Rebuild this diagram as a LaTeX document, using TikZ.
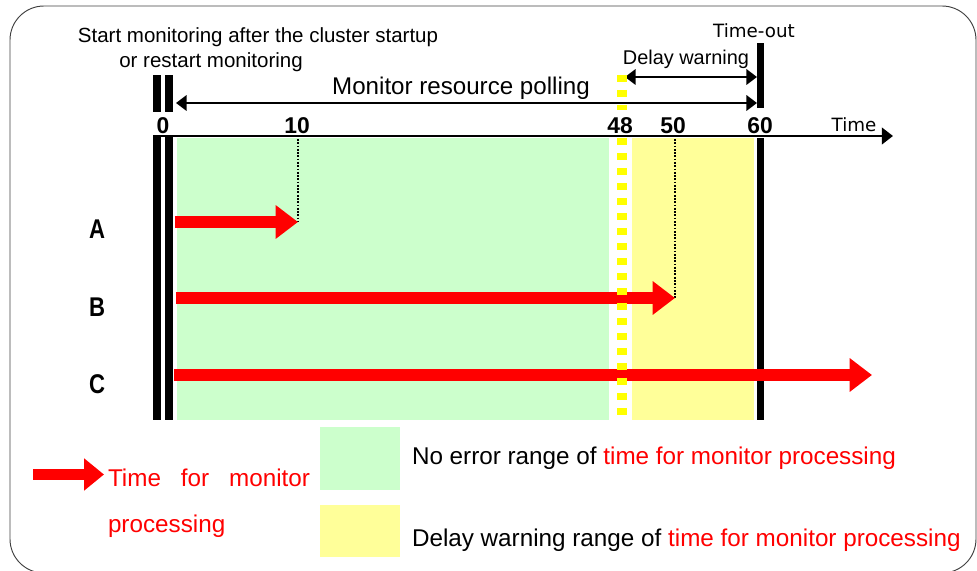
\documentclass[tikz,border=0pt]{standalone}
\usepackage{fontspec}
\setmainfont{Liberation Sans}
\newfontfamily\gothicfont{DejaVu Sans}
\usepackage{tikz}
\usetikzlibrary{arrows.meta,positioning}

\begin{document}
\begin{tikzpicture}[
    x=0.03cm, y=-0.03cm,
    every node/.style={inner sep=0pt, outer sep=0pt},
    frameBox/.style={draw=black!75, line width=0.8pt, rounded corners=1.02cm},
    blackBar/.style={fill=black},
    axisArrow/.style={-{Triangle[length=9.5pt,width=14pt]}, line width=2.5pt},
    spanArrow/.style={{Triangle[length=9pt,width=13pt]}-{Triangle[length=9pt,width=13pt]}, line width=2.4pt},
    procArrow/.style={-{Triangle[length=19pt,width=27.5pt]}, line width=9.6pt, draw=procRed},
    dotLine/.style={line width=1.8pt, dash pattern=on 1.5pt off 1.3pt},
    yellowDash/.style={draw=dashYellow, line width=8pt, dash pattern=on 6pt off 6.8pt},
    noteText/.style={anchor=base, font=\fontsize{17.5}{20}\selectfont},
    pollText/.style={anchor=base, font=\fontsize{20.6}{24}\selectfont},
    gothicText/.style={anchor=base, font=\gothicfont\fontsize{15.6}{18}\selectfont},
    tickLabel/.style={anchor=base, font=\fontsize{19.5}{22}\selectfont\bfseries},
    rowLabel/.style={anchor=base, font=\fontsize{21}{24}\selectfont\bfseries},
    legendText/.style={font=\fontsize{20.7}{24}\selectfont},
    keyBox/.style={minimum width=2.4cm, minimum height=1.89cm, draw=none}
]

    \definecolor{okGreen}{HTML}{CCFFCC}
    \definecolor{warnYellow}{HTML}{FFFF99}
    \definecolor{dashYellow}{HTML}{FFFF00}
    \definecolor{procRed}{HTML}{FF0000}

    \useasboundingbox (0,0) rectangle (977,571);
    \draw[frameBox] (10,6) rectangle (976,573);

    % ranges
    \fill[okGreen] (177,138) rectangle (609,420);
    \fill[warnYellow] (632,138) rectangle (754,420);

    % start and time-out bars
    \fill[blackBar] (153,75) rectangle (161,112);
    \fill[blackBar] (165,75) rectangle (173,112);
    \fill[blackBar] (153,136) rectangle (161,420);
    \fill[blackBar] (165,136) rectangle (173,420);
    \fill[blackBar] (757,43) rectangle (764,108);
    \fill[blackBar] (757,138) rectangle (764,420);

    \coordinate (axisStart) at (153,136);
    \coordinate (axisEnd) at (893,136);
    \coordinate (pollStart) at (176,103);
    \coordinate (pollEnd) at (757,103);
    \coordinate (delayStart) at (625,77);
    \coordinate (delayEnd) at (757,77);

    \draw[axisArrow] (axisStart) -- (axisEnd);
    \draw[spanArrow] (pollStart) -- (pollEnd);
    \draw[spanArrow] (delayStart) -- (delayEnd);

    \node[noteText] (startText) at (258,43) {Start monitoring after the cluster startup};
    \node[noteText] (restartText) at (211,68) {or restart monitoring};
    \node[pollText] (pollText) at (461,95) {Monitor resource polling};
    \node[noteText, font=\fontsize{17}{20}\selectfont] (delayText) at (686,65) {Delay warning};
    \node[gothicText] (timeoutText) at (754,38) {Time-out};
    \node[gothicText] (axisText) at (854,132) {Time};

    \node[tickLabel] (tick0) at (163,134) {0};
    \node[tickLabel] (tick10) at (297,134) {10};
    \node[tickLabel] (tick48) at (620,134) {48};
    \node[tickLabel] (tick50) at (673,134) {50};
    \node[tickLabel] (tick60) at (760,134) {60};

    \node[rowLabel] (rowA) at (97,239) {\scalebox{0.9}[1.1]{A}};
    \node[rowLabel] (rowB) at (97,317) {\scalebox{0.9}[1.1]{B}};
    \node[rowLabel] (rowC) at (97,393) {\scalebox{0.9}[1.1]{C}};

    \coordinate (startA) at (175,222);
    \coordinate (endA) at (298,222);
    \coordinate (startB) at (176,298);
    \coordinate (endB) at (675,298);
    \coordinate (startC) at (174,375);
    \coordinate (endC) at (872,375);

    \draw[dotLine] (endA |- axisStart) ++(0,3) -- (endA);
    \draw[dotLine] (endB |- axisStart) ++(0,3) -- (endB);

    \draw[procArrow] (startA) -- (endA);
    \draw[procArrow] (startB) -- (endB);
    \draw[procArrow] (startC) -- (endC);

    \draw[yellowDash] (622,75) -- (622,110);
    \draw[yellowDash] (622,138) -- (622,420);

    % legend
    \coordinate (keyArrowStart) at (33,474.5);
    \coordinate (keyArrowEnd) at (104,474.5);
    \draw[procArrow, line width=10pt, -{Triangle[length=17pt,width=26.5pt]}] (keyArrowStart) -- (keyArrowEnd);
    \node[legendText, anchor=base west, text=procRed] (procLineOne) at (108,486) {\makebox[6.06cm][l]{Time\hfill for\hfill monitor}};
    \node[legendText, anchor=base west, text=procRed] (procLineTwo) at (108,532) {processing};

    \node[keyBox, fill=okGreen] (greenKey) at (360,458.5) {};
    \node[keyBox, fill=warnYellow, minimum height=1.56cm] (yellowKey) at (360,531) {};
    \node[legendText, right=0.36cm of greenKey] (noErrText) {No error range of \textcolor{procRed}{time for monitor processing}};
    \node[legendText, right=0.36cm of yellowKey, yshift=-0.28cm] (delayRangeText) {Delay warning range of \textcolor{procRed}{time for monitor processing}};

\end{tikzpicture}
\end{document}
